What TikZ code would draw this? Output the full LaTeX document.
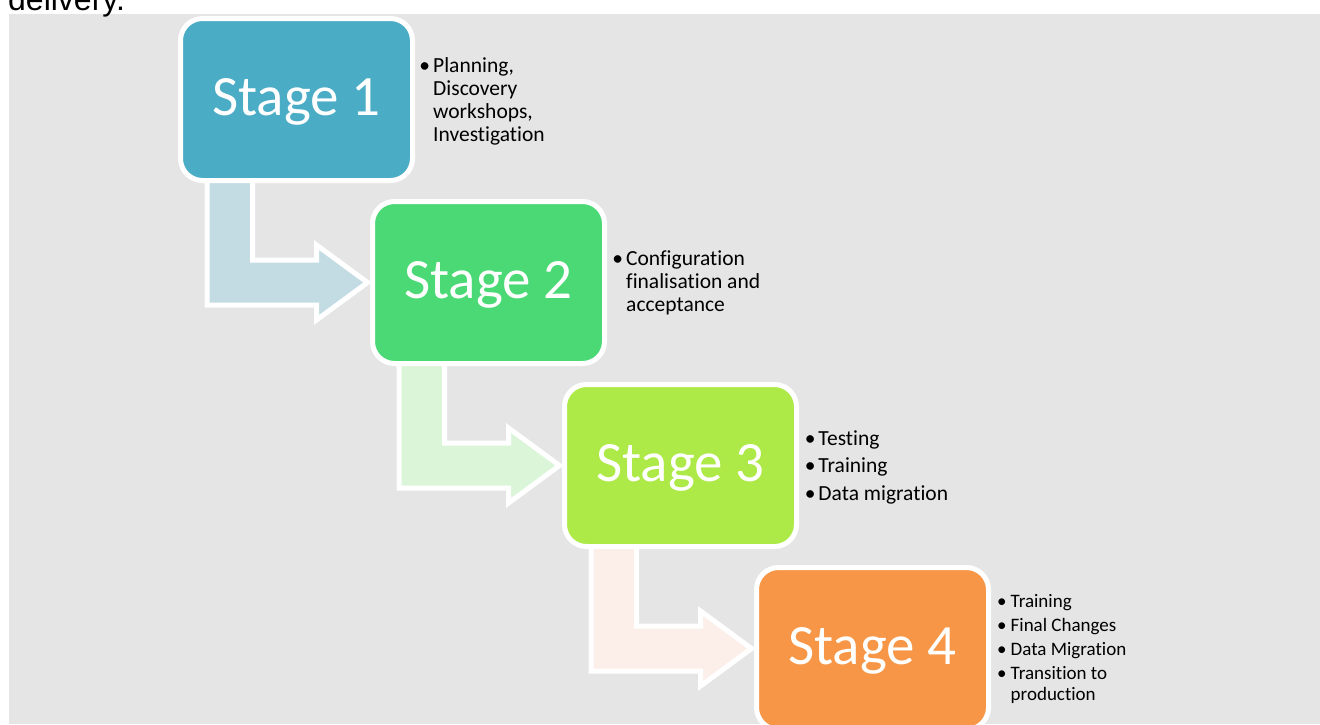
\documentclass[tikz,border=0pt]{standalone}
\usepackage{fontspec}
\setmainfont{Carlito}[RawFeature=-liga]
\newfontfamily\introfont{Liberation Sans}
\usepackage{tikz}
\usetikzlibrary{positioning,calc,backgrounds}

\definecolor{pagegray}{HTML}{E5E5E5}
\definecolor{stageblue}{HTML}{4BACC6}
\definecolor{stagegreen}{HTML}{4AD975}
\definecolor{stagelime}{HTML}{ADE947}
\definecolor{stageorange}{HTML}{F79646}
\definecolor{flowblue}{HTML}{C3DCE4}
\definecolor{flowgreen}{HTML}{DAF5D7}
\definecolor{flowpeach}{HTML}{FCEEE9}

\begin{document}
\begin{tikzpicture}[x=1pt,y=-1pt,node distance=183pt and 192pt,on grid,
  stage/.style={draw=white,line width=5pt,rounded corners=22pt,minimum width=232pt,
    minimum height=162pt,inner sep=0pt,outer sep=0pt,text height=31pt,text depth=0pt,
    text=white,font=\fontsize{57}{60}\selectfont},
  notes/.style={anchor=north west,inner sep=0pt,align=left},
  stagearrow/.style={draw=white,line width=5pt,line join=miter}]
   \useasboundingbox (0,0) rectangle (1320,724);
   \node[anchor=base west,inner sep=0pt,font=\introfont\fontsize{32}{36}\selectfont] (intro) at (8,10.5) {delivery.};

   \node[stage,fill=stageblue] (s1) at (296.5,99.5) {Stage 1};
   \node[stage,fill=stagegreen] (s2) [below right=of s1] {Stage 2};
   \node[stage,fill=stagelime] (s3) [below right=of s2] {Stage 3};
   \node[stage,fill=stageorange] (s4) [below right=of s3] {Stage 4};

   % bullet lists beside the boxes
   \node[notes,font=\fontsize{21.5}{23}\selectfont] (n1) at ($(s1.north east)+(20.5,37.4)$)
     {\begin{tabular}[t]{@{}l@{}}\llap{\textbullet\hspace{3pt}}Planning,\\ Discovery\\ workshops,\\ Investigation\end{tabular}};
   \node[notes,font=\fontsize{21.5}{23}\selectfont] (n2) at ($(s2.north east)+(21.5,48.1)$)
     {\begin{tabular}[t]{@{}l@{}}\llap{\textbullet\hspace{3pt}}Configuration\\ finalisation and\\ acceptance\end{tabular}};
   \node[notes,font=\fontsize{21.5}{23}\selectfont] (n3) at ($(s3.north east)+(21.8,44.4)$)
     {\begin{tabular}[t]{@{}l@{}}\llap{\textbullet\hspace{3pt}}Testing\\[4.5pt] \llap{\textbullet\hspace{3pt}}Training\\[4.5pt] \llap{\textbullet\hspace{3pt}}Data migration\end{tabular}};
   \node[notes,font=\fontsize{19}{20.5}\selectfont] (n4) at ($(s4.north east)+(22,25.5)$)
     {\begin{tabular}[t]{@{}l@{}}\llap{\textbullet\hspace{4pt}}Training\\[3.5pt] \llap{\textbullet\hspace{4pt}}Final Changes\\[3.5pt] \llap{\textbullet\hspace{4pt}}Data Migration\\[3.5pt] \llap{\textbullet\hspace{4pt}}Transition to\\ production\end{tabular}};

   \begin{scope}[on background layer]
     \fill[pagegray] (9,14) rectangle (1320,724);
     % bent arrows from one stage to the next
     \foreach \a/\b/\c in {s1/s2/flowblue,s2/s3/flowgreen,s3/s4/flowpeach}
       \draw[stagearrow,fill=\c] ($(\a.west)+(26.5,0)$)
         -- ($(\a.west |- \b.center)+(26.5,22.5)$)
         -- ($(\b.west)+(-56,22.5)$) -- ($(\b.west)+(-56,37.5)$)
         -- ($(\b.west)+(-5,0)$)
         -- ($(\b.west)+(-56,-37.5)$) -- ($(\b.west)+(-56,-22.5)$)
         -- ($(\a.west |- \b.center)+(72,-22.5)$)
         -- ($(\a.west)+(72,0)$) -- cycle;
   \end{scope}
\end{tikzpicture}
\end{document}
